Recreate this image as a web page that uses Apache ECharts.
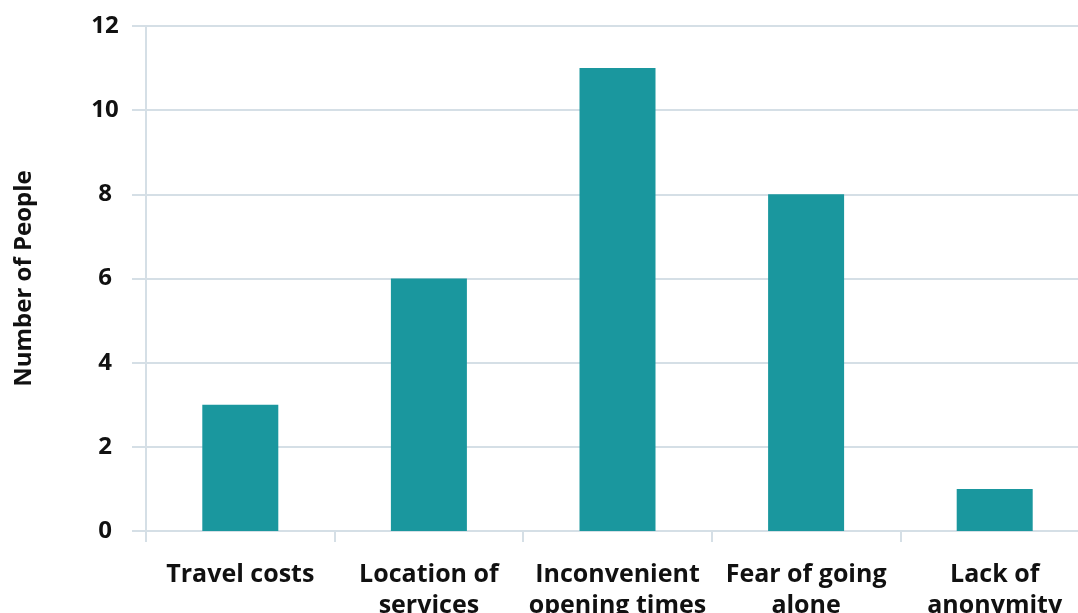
<!DOCTYPE html>
<html>
<head>
<meta charset="utf-8">
<script src="https://cdn.jsdelivr.net/npm/echarts@6/dist/echarts.min.js"></script>
<style>
  html, body { margin: 0; padding: 0; background: #fff; overflow: hidden; }
  /* the source chart is cut off at its right edge, so the canvas runs past the window */
  #chart { width: 1089px; height: 613px; }
</style>
</head>
<body>
<div id="chart"></div>
<script>
const categories = ['Travel costs', 'Location of\nservices', 'Inconvenient\nopening times', 'Fear of going\nalone', 'Lack of\nanonymity']
const people = [3, 6, 11, 8, 1]
const yTicks = { min: 0, max: 12, interval: 2 }

const lineColor = '#d5dfe6'
const font = '"Open Sans", "Noto Sans", sans-serif'

const chart = echarts.init(document.getElementById('chart'))
chart.setOption({
  animation: false,
  grid: { left: 146, right: 0, top: 26, bottom: 82, containLabel: false, outerBoundsMode: 'none' },
  xAxis: {
    type: 'category',
    data: categories,
    axisLine: { lineStyle: { color: lineColor, width: 2 } },
    axisTick: { show: true, length: 11, lineStyle: { color: lineColor, width: 2 } },
    axisLabel: {
      color: '#111', fontSize: 25, fontWeight: 'bold', fontFamily: font,
      lineHeight: 31, margin: 28, interval: 0
    }
  },
  yAxis: {
    type: 'value',
    min: yTicks.min, max: yTicks.max, interval: yTicks.interval,
    name: 'Number of People',
    nameLocation: 'middle',
    nameGap: 110,
    nameRotate: 90,
    nameTextStyle: { color: '#111', fontSize: 24, fontWeight: 'bold', fontFamily: font },
    axisLine: { show: true, lineStyle: { color: lineColor, width: 2 } },
    axisTick: { show: true, length: 14, lineStyle: { color: lineColor, width: 2 } },
    axisLabel: { color: '#111', fontSize: 24, fontWeight: 'bold', fontFamily: font, margin: 41, align: 'center' },
    splitLine: { show: true, lineStyle: { color: lineColor, width: 2 } }
  },
  series: [{
    type: 'bar',
    data: people,
    barWidth: 76,
    itemStyle: { color: '#1a979e' }
  }]
})
</script>
</body>
</html>
